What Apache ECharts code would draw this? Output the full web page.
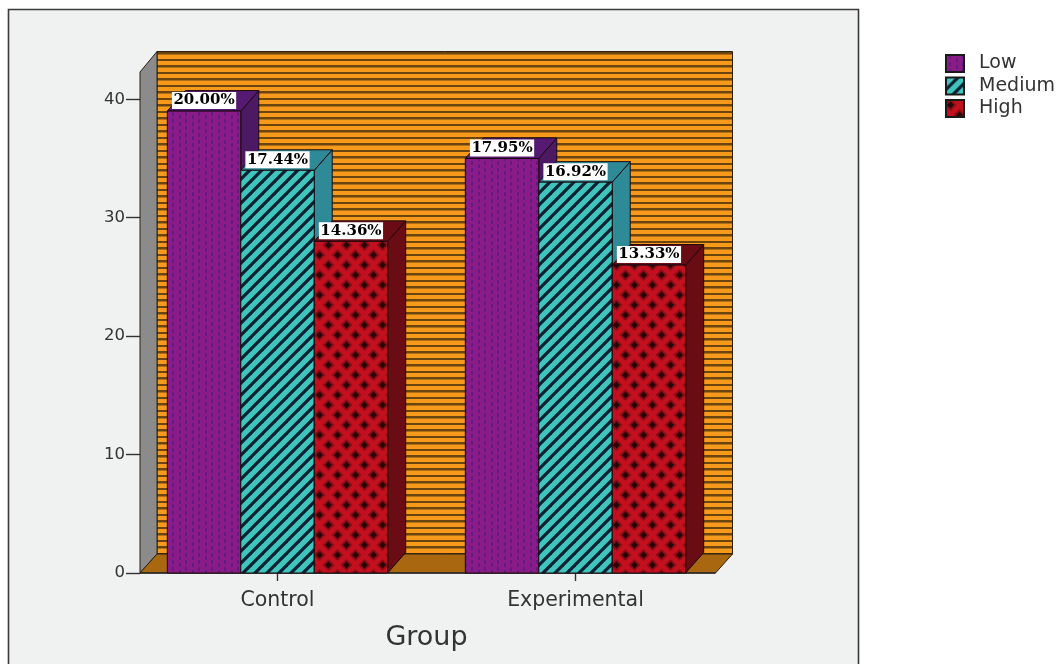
<!DOCTYPE html>
<html><head><meta charset="utf-8">
<style>html,body{margin:0;padding:0;background:#fff}#c{width:1061px;height:664px}</style>
<script src="https://cdn.jsdelivr.net/npm/echarts@6/dist/echarts.min.js"></script>
</head><body><div id="c"></div>
<script>
const categories = ['Control', 'Experimental'];
const lowValues = [39, 35];
const mediumValues = [34, 33];
const highValues = [28, 26];
const lowLabels = ['20.00%', '17.95%'];
const mediumLabels = ['17.44%', '16.92%'];
const highLabels = ['14.36%', '13.33%'];
const yTicks = [0, 10, 20, 30, 40];
const wallTop = 42.3;

function tile(w, h, draw) {
  const c = document.createElement('canvas'); c.width = w; c.height = h;
  draw(c.getContext('2d'), w, h); return c;
}
const pat = img => ({ image: img, repeat: 'repeat' });
const wallPat = pat(tile(4, 13, (g, w, h) => {
  g.fillStyle = '#f79a1c'; g.fillRect(0, 0, w, h);
  g.fillStyle = '#6b4510'; g.fillRect(0, 0, w, 2.5); g.fillRect(0, 7, w, 2);
}));
const lowPat = pat(tile(13, 7, (g, w, h) => {
  g.fillStyle = '#8a1c88'; g.fillRect(0, 0, w, h);
  g.fillStyle = '#641a84'; g.fillRect(3, 0, 2, 4); g.fillRect(10, 3, 2, 4);
}));
const medPat = pat(tile(12, 12, (g, w, h) => {
  g.fillStyle = '#3fc5bd'; g.fillRect(0, 0, w, h);
  g.strokeStyle = '#0b2030'; g.lineWidth = 3.2;
  [[-12, 12, 12, -12], [0, 12, 12, 0], [0, 24, 24, 0]].forEach(p => {
    g.beginPath(); g.moveTo(p[0], p[1]); g.lineTo(p[2], p[3]); g.stroke();
  });
}));
function diamond(g, x, y, r) {
  g.beginPath(); g.moveTo(x - r, y); g.lineTo(x, y - r); g.lineTo(x + r, y); g.lineTo(x, y + r); g.closePath(); g.fill();
}
const highPat = pat(tile(18, 20, (g, w, h) => {
  g.fillStyle = '#c2101f'; g.fillRect(0, 0, w, h);
  [[4.5, 5], [13.5, 15], [13.5, -5], [-4.5, 15], [22.5, 5], [4.5, 25]].forEach(p => {
    g.fillStyle = '#8a0c16'; diamond(g, p[0], p[1], 6);
    g.fillStyle = '#2a0507'; diamond(g, p[0], p[1], 3.4);
  });
}));

const DX = 18, DY = -20.5, BAR_FRAC = 0.2465, STROKE = '#1a0a10';
const SANS = '"DejaVu Sans"';

function barSeries(name, values, labels, index, fill, side, top) {
  return {
    name, type: 'custom', coordinateSystem: 'cartesian2d', z: 3,
    itemStyle: { color: fill, borderColor: '#1a1a1a', borderWidth: 1 },
    encode: { x: 0, y: 1 },
    data: values.map((v, i) => [i, v, labels[i]]),
    renderItem(params, api) {
      const cat = api.value(0), val = api.value(1);
      const base = api.coord([cat, 0]), head = api.coord([cat, val]);
      const w = api.size([1, 0])[0] * BAR_FRAC;
      const x = base[0] + (index - 1.5) * w, y0 = base[1], y1 = head[1];
      const line = { stroke: STROKE, lineWidth: 1 };
      return { type: 'group', children: [
        { type: 'polygon', shape: { points: [[x + w, y0], [x + w + DX, y0 + DY], [x + w + DX, y1 + DY], [x + w, y1]] }, style: { fill: side, ...line } },
        { type: 'polygon', shape: { points: [[x, y1], [x + DX, y1 + DY], [x + w + DX, y1 + DY], [x + w, y1]] }, style: { fill: top, ...line } },
        { type: 'rect', shape: { x, y: y1, width: w, height: y0 - y1 }, style: { fill, ...line } },
        { type: 'text', z2: 10, x: x + w / 2, y: y1 - 10.5, style: {
          text: api.value(2), font: 'bold 15px "DejaVu Serif"', fill: '#000', align: 'center', verticalAlign: 'middle',
          backgroundColor: '#fff', padding: [0, 1.5, 0, 1.5], lineHeight: 17 } }
      ] };
    }
  };
}

const wallSeries = {
  name: 'wall', type: 'custom', z: 1, silent: true, data: [[0, 0]], encode: { x: 0, y: 1 },
  renderItem(params, api) {
    const band = api.size([1, 0])[0];
    const a = api.coord([0, 0]), b = api.coord([1, 0]), t = api.coord([0, wallTop]);
    const xl = a[0] - band / 2 + 11.5, xr = b[0] + band / 2 - 9, y0 = a[1], yt = t[1];
    const line = { stroke: '#2a2010', lineWidth: 1 };
    return { type: 'group', children: [
      { type: 'polygon', shape: { points: [[xl + DX - 1, y0 + DY + 1.5], [xr + DX - 1, y0 + DY + 1.5], [xr + DX - 1, yt + DY], [xl + DX - 1, yt + DY]] }, style: { fill: wallPat, ...line } },
      { type: 'polygon', shape: { points: [[xl, y0], [xl + DX - 1, y0 + DY + 1.5], [xl + DX - 1, yt + DY], [xl, yt]] }, style: { fill: '#8b8b8b', ...line } },
      { type: 'polygon', shape: { points: [[xl, y0], [xl + DX - 1, y0 + DY + 1.5], [xr + DX - 1, y0 + DY + 1.5], [xr, y0]] }, style: { fill: '#a9670f', ...line } },
      { type: 'line', z2: 9, shape: { x1: xl, y1: y0, x2: xr, y2: y0 }, style: { stroke: '#2a2a2a', lineWidth: 1.4 } }
    ] };
  }
};

const chart = echarts.init(document.getElementById('c'), null, { renderer: 'canvas' });
chart.setOption({
  animation: false,
  backgroundColor: '#fff',
  graphic: [{ type: 'rect', z: -10, shape: { x: 8.5, y: 9.5, width: 850, height: 670 }, style: { fill: '#f0f1f1', stroke: '#3a3a3a', lineWidth: 1.6 } }],
  legend: {
    data: ['Low', 'Medium', 'High'], orient: 'vertical', left: 945, top: 54, padding: 0,
    itemWidth: 18, itemHeight: 17, itemGap: 3.5, icon: 'rect', selectedMode: false,
    textStyle: { fontFamily: SANS, fontSize: 19, lineHeight: 17, color: '#333', padding: [0, 0, 0, 10] }
  },
  grid: { left: 128.5, width: 596, top: 72, height: 501 },
  xAxis: {
    type: 'category', data: categories,
    axisLine: { show: false },
    axisTick: { show: true, alignWithLabel: true, length: 8, lineStyle: { color: '#333', width: 1.4 } },
    axisLabel: { fontFamily: SANS, fontSize: 20.5, color: '#333', margin: 17 },
    name: 'Group', nameLocation: 'middle', nameGap: 51,
    nameTextStyle: { fontFamily: SANS, fontSize: 27, color: '#333' }
  },
  yAxis: {
    type: 'value', min: 0, max: wallTop, offset: -11.5,
    axisLine: { show: true, lineStyle: { color: '#333' } },
    axisTick: { show: true, length: 14, customValues: yTicks, lineStyle: { color: '#333', width: 1.4 } },
    axisLabel: { fontFamily: SANS, fontSize: 16.5, color: '#333', margin: 15, customValues: yTicks },
    splitLine: { show: false }
  },
  series: [
    wallSeries,
    barSeries('Low', lowValues, lowLabels, 0, lowPat, '#4b1a63', '#571a72'),
    barSeries('Medium', mediumValues, mediumLabels, 1, medPat, '#2f8a97', '#2f8a97'),
    barSeries('High', highValues, highLabels, 2, highPat, '#6a0c14', '#6a0c14')
  ]
});
</script></body></html>
